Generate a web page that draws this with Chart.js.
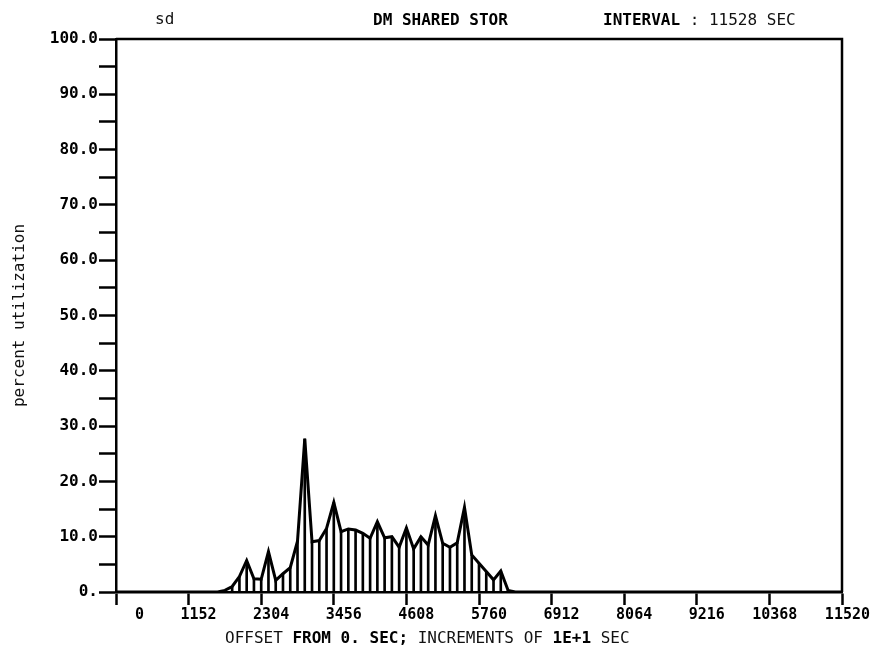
<!DOCTYPE html>
<html>
<head>
<meta charset="utf-8">
<title>DM SHARED STOR</title>
<script src="https://cdn.jsdelivr.net/npm/chart.js@4.4.0/dist/chart.umd.min.js"></script>
<style>
  html, body { margin: 0; padding: 0; background: #fff; }
  #wrap { position: relative; width: 878px; height: 650px; }
  #chart { position: absolute; left: 0; top: 0; }
  .txt { position: absolute; font-family: "DejaVu Sans Mono", monospace; font-size: 16px; line-height: 16px; color: #111; white-space: pre; }
  .b { font-weight: bold; color: #000; }
</style>
</head>
<body>
<div id="wrap">
  <canvas id="chart" width="878" height="650"></canvas>
  <div class="txt" style="left:155px;top:11px;">sd</div>
  <div class="txt b" style="left:373px;top:12px;">DM SHARED STOR</div>
  <div class="txt" style="left:603px;top:12px;"><span class="b">INTERVAL</span> : 11528 SEC</div>
  <div class="txt" style="left:225px;top:630px;">OFFSET <span class="b">FROM 0. SEC;</span> INCREMENTS OF <span class="b">1E+1</span> SEC</div>
</div>
<script>
// offsets (sec) of the samples, and percent utilization
const offsets = [0, 1612.8, 1728, 1843.2, 1958.4, 2073.6, 2188.8, 2304, 2419.2, 2534.4, 2649.6,
  2764.8, 2880, 2995.2, 3110.4, 3225.6, 3340.8, 3456, 3571.2, 3686.4, 3801.6,
  3916.8, 4032, 4147.2, 4262.4, 4377.6, 4492.8, 4608, 4723.2, 4838.4, 4953.6,
  5068.8, 5184, 5299.2, 5414.4, 5529.6, 5644.8, 5760, 5875.2, 5990.4, 6105.6,
  6220.8, 6336, 11520];
const utilization = [0, 0, 0.3, 1.0, 2.8, 5.7, 2.4, 2.3, 7.3, 2.1, 3.3,
  4.4, 9.2, 27.7, 9.1, 9.3, 11.5, 16.2, 10.9, 11.4, 11.2,
  10.6, 9.7, 12.7, 9.8, 10.0, 8.1, 11.6, 7.8, 10.0, 8.5,
  13.8, 8.8, 8.1, 8.9, 15.3, 6.7, 5.2, 3.7, 2.2, 3.8,
  0.3, 0, 0];

const xTickValues = [0, 1152, 2304, 3456, 4608, 5760, 6912, 8064, 9216, 10368, 11520];
const yMajorTicks = [0, 10, 20, 30, 40, 50, 60, 70, 80, 90, 100];
const yMinorTicks = [5, 15, 25, 35, 45, 55, 65, 75, 85, 95];

const points = offsets.map((x, i) => ({ x: x, y: utilization[i] }));

// top and right edges of the plot frame
const framePlugin = {
  id: 'frame',
  afterDraw(chart){
    const { ctx, chartArea: a } = chart;
    ctx.save();
    ctx.strokeStyle = '#000';
    ctx.lineWidth = 2.5;
    ctx.beginPath();
    ctx.moveTo(a.left, a.top);
    ctx.lineTo(a.right, a.top);
    ctx.lineTo(a.right, a.bottom);
    ctx.stroke();
    ctx.restore();
  }
};

new Chart(document.getElementById('chart').getContext('2d'), {
  type: 'bar',
  data: {
    datasets: [
      {
        type: 'line',
        data: points,
        borderColor: '#000',
        borderWidth: 3,
        pointRadius: 0,
        tension: 0,
        fill: false,
        order: 0
      },
      {
        type: 'bar',
        data: points,
        backgroundColor: '#000',
        borderWidth: 0,
        barThickness: 2,
        order: 1
      }
    ]
  },
  options: {
    responsive: false,
    animation: false,
    layout: { padding: { left: 0, top: 39, right: 36, bottom: 0 } },
    plugins: { legend: { display: false }, tooltip: { enabled: false } },
    scales: {
      x: {
        type: 'linear',
        min: 0,
        max: 11520,
        offset: false,
        afterBuildTicks: s => { s.ticks = xTickValues.map(v => ({ value: v })); },
        afterFit: s => { s.height = 58; },
        grid: { display: true, drawOnChartArea: false, offset: false, tickLength: 13, tickWidth: 2.5, tickColor: '#000' },
        border: { display: true, color: '#000', width: 2.5 },
        ticks: {
          autoSkip: false,
          maxRotation: 0,
          align: 'end',
          labelOffset: 28,
          padding: 1,
          color: '#000',
          font: { family: 'DejaVu Sans Mono', size: 15, weight: 'bold' },
          callback: v => String(v)
        }
      },
      y: {
        min: 0,
        max: 100,
        afterBuildTicks: s => {
          s.ticks = yMajorTicks.concat(yMinorTicks).sort((a, b) => a - b).map(v => ({ value: v }));
        },
        afterFit: s => { s.width = 116; },
        grid: { display: true, drawOnChartArea: false, tickLength: 17, tickWidth: 2.5, tickColor: '#000' },
        border: { display: true, color: '#000', width: 2.5 },
        ticks: {
          autoSkip: false,
          padding: 1,
          color: '#000',
          font: { family: 'DejaVu Sans Mono', size: 16, weight: 'bold' },
          callback: v => yMajorTicks.includes(v) ? (v === 0 ? '0.' : v.toFixed(1)) : ''
        },
        title: {
          display: true,
          text: 'percent utilization',
          color: '#111',
          font: { family: 'DejaVu Sans Mono', size: 16 },
          padding: { top: 10, bottom: 0 }
        }
      }
    }
  },
  plugins: [framePlugin]
});
</script>
</body>
</html>
